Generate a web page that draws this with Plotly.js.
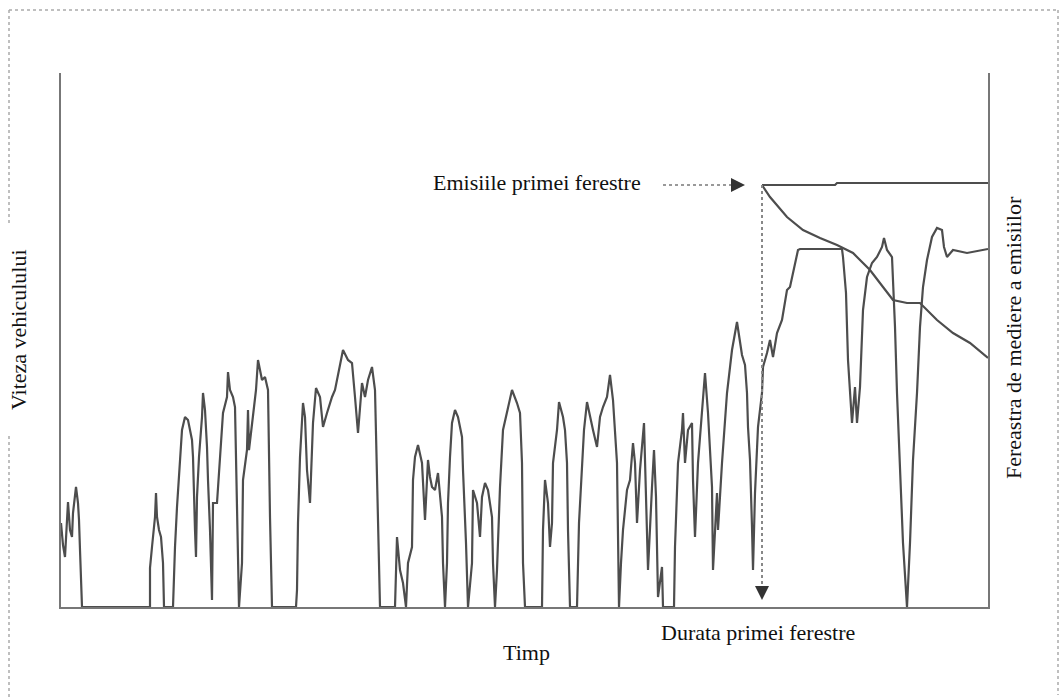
<!DOCTYPE html>
<html>
<head>
<meta charset="utf-8">
<script src="https://cdn.plot.ly/plotly-3.0.1.min.js"></script>
<style>html,body{margin:0;padding:0;background:#fff;}#chart{width:1063px;height:698px;}</style>
</head>
<body>
<div id="chart"></div>
<script>
// Vehicle speed trace (time units, speed units)
const time = [0,2,4,6,7,9,11,12,14,15,17,18,19,20,21,89,89,91,94,95,96,98,100,102,103,112,113,114,116,119,121,124,127,131,132,134,135,136,138,141,142,144,146,147,149,151,152,156,159,162,166,167,169,172,174,176,178,181,182,186,187,188,192,195,197,201,204,207,209,211,235,236,237,239,242,244,246,249,252,255,259,262,266,271,274,279,282,287,291,294,297,301,304,307,311,314,317,319,334,336,339,342,345,347,351,352,354,357,361,362,364,367,369,371,374,377,379,381,382,384,386,387,389,391,394,397,401,402,405,407,411,412,416,419,421,424,427,431,432,434,436,439,442,447,451,456,459,461,462,464,481,482,484,487,489,491,492,496,498,502,504,506,507,509,516,518,521,523,526,529,532,536,539,542,546,549,552,556,557,558,560,562,566,569,572,574,576,579,583,585,587,591,593,595,597,601,602,613,614,617,621,622,624,627,631,632,634,637,641,644,647,651,652,656,657,661,666,671,676,681,684,686,687,689,691,692,694,697,701,702,706,709,712,716,721,726,729,732,736,737,739,781,782,785,787,790,791,794,796,799,802,806,811,816,821,823,826,831,832,834,836,839,842,846,849,852,856,859,862,866,871,876,881,883,886,892,906,927];
const speed = [84,62,50,87,105,77,70,94,112,120,104,87,57,27,0,0,39,60,90,114,90,77,70,44,0,0,37,60,100,150,177,190,187,167,150,77,50,110,150,190,214,197,160,127,77,7,104,104,144,194,210,235,217,210,200,110,0,44,127,157,197,157,190,217,247,227,230,217,90,0,0,17,84,150,204,190,137,104,184,219,210,180,194,210,217,240,257,247,244,210,174,224,210,227,240,217,67,0,0,70,37,24,0,44,60,127,150,162,144,120,87,147,130,120,117,134,110,90,44,0,44,104,150,184,197,190,170,137,64,0,44,117,104,70,110,124,117,90,44,0,37,120,177,200,217,204,194,144,44,0,0,77,127,104,60,84,144,177,205,190,177,144,77,0,0,84,137,177,205,190,177,160,190,200,210,232,207,144,44,0,44,77,117,127,164,144,84,137,184,110,37,120,157,110,10,40,0,0,60,144,177,194,144,177,184,127,70,144,194,234,194,120,37,114,77,144,214,257,285,252,242,214,180,147,80,37,114,180,214,240,254,267,250,274,287,317,320,334,350,357,358,358,350,314,247,197,184,220,184,220,297,330,344,350,360,369,357,350,330,280,214,147,64,0,64,147,214,280,320,347,370,379,377,360,350,357,354,358];

// Emission averaging window: moving-average emission curve
const emissionTime = [701,709,726,742,759,776,792,809,822,832,846,859,876,892,909,927];
const emissionValue = [422,410,390,377,369,362,354,337,320,307,304,304,287,274,264,249];

// First-window emission level (top line)
const firstWindowTime = [701,774,776,927];
const firstWindowLevel = [422,422,424,424];

// First window start (duration marker)
const windowStart = [701, 701];
const windowSpan = [422, 12];

// Pointer from the "Emisiile primei ferestre" label to the window level
const pointerTime = [602, 676];
const pointerLevel = [422, 422];

const gray = '#4d4d4d';
const font = {family: 'Liberation Serif, Times New Roman, serif', size: 22, color: '#111'};

const traces = [
  {x: time, y: speed, mode: 'lines', line: {color: gray, width: 2.2}, hoverinfo: 'skip'},
  {x: emissionTime, y: emissionValue, mode: 'lines', line: {color: gray, width: 2.2}, hoverinfo: 'skip'},
  {x: firstWindowTime, y: firstWindowLevel, mode: 'lines', line: {color: gray, width: 2.2}, hoverinfo: 'skip'},
  {x: windowStart, y: windowSpan, mode: 'lines', line: {color: '#888', width: 2, dash: 'dot'}, hoverinfo: 'skip'},
  {x: pointerTime, y: pointerLevel, mode: 'lines', line: {color: '#999', width: 2, dash: 'dot'}, hoverinfo: 'skip'}
];

// pixel helpers for paper coordinates (plot area 61..988 x 73..607)
const px = v => (v - 61) / 927;
const py = v => (607 - v) / 534;

const frame = {type: 'line', xref: 'paper', yref: 'paper', line: {color: '#aaa', width: 1.5, dash: 'dot'}};
const shapes = [
  Object.assign({}, frame, {x0: px(9), x1: px(1058), y0: py(10), y1: py(10)}),
  Object.assign({}, frame, {x0: px(1058), x1: px(1058), y0: py(10), y1: py(695)}),
  Object.assign({}, frame, {x0: px(9), x1: px(9), y0: py(10), y1: py(226)}),
  Object.assign({}, frame, {x0: px(9), x1: px(9), y0: py(436), y1: py(698)})
];

const annotations = [
  {text: 'Emisiile primei ferestre', xref: 'paper', yref: 'paper', x: px(643), y: py(182), xanchor: 'right', yanchor: 'middle', showarrow: false, font: font},
  {text: '', x: pointerTime[1] + 8, y: pointerLevel[1], ax: pointerTime[1] - 4, ay: pointerLevel[1], xref: 'x', yref: 'y', axref: 'x', ayref: 'y', showarrow: true, arrowhead: 2, arrowsize: 1.4, arrowwidth: 2, arrowcolor: '#333'},
  {text: '', x: windowStart[0], y: 7, ax: windowStart[0], ay: 20, xref: 'x', yref: 'y', axref: 'x', ayref: 'y', showarrow: true, arrowhead: 2, arrowsize: 1.4, arrowwidth: 2, arrowcolor: '#333'},
  {text: 'Timp', xref: 'paper', yref: 'paper', x: px(526), y: py(652), xanchor: 'center', yanchor: 'middle', showarrow: false, font: font},
  {text: 'Durata primei ferestre', xref: 'paper', yref: 'paper', x: px(758), y: py(632), xanchor: 'center', yanchor: 'middle', showarrow: false, font: font},
  {text: 'Viteza vehiculului', xref: 'paper', yref: 'paper', x: px(18), y: py(330), xanchor: 'center', yanchor: 'middle', textangle: -90, showarrow: false, font: font},
  {text: 'Fereastra de mediere a emisiilor', xref: 'paper', yref: 'paper', x: px(1013), y: py(338), xanchor: 'center', yanchor: 'middle', textangle: -90, showarrow: false, font: font}
];

const layout = {
  width: 1063, height: 698,
  margin: {l: 61, r: 75, t: 73, b: 91, pad: 0},
  paper_bgcolor: '#fff', plot_bgcolor: '#fff',
  showlegend: false,
  xaxis: {range: [0, 927], showgrid: false, zeroline: false, showticklabels: false, ticks: '', showline: true, linecolor: '#777', linewidth: 2, fixedrange: true},
  yaxis: {range: [0, 534], showgrid: false, zeroline: false, showticklabels: false, ticks: '', showline: true, mirror: true, linecolor: '#777', linewidth: 2, fixedrange: true},
  shapes: shapes,
  annotations: annotations
};

Plotly.newPlot('chart', traces, layout, {displayModeBar: false, staticPlot: true});
</script>
</body>
</html>
